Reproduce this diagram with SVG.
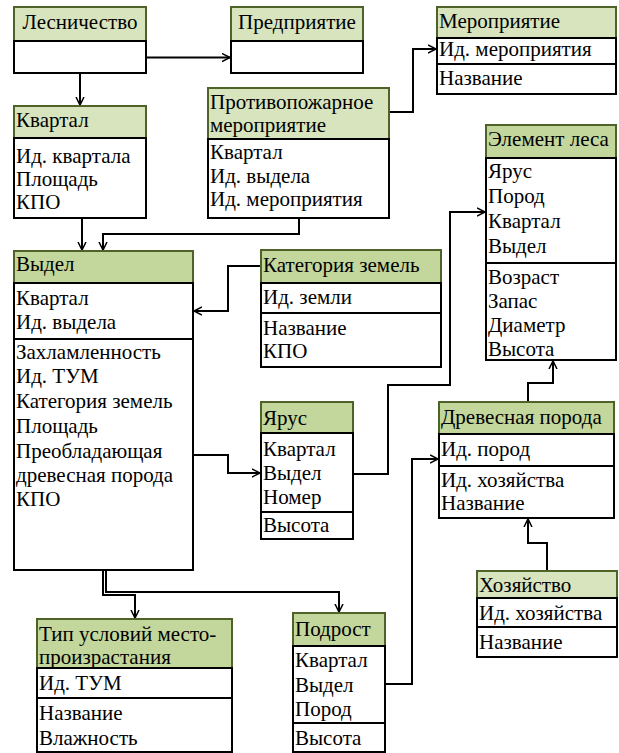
<svg xmlns="http://www.w3.org/2000/svg" width="619" height="753" viewBox="0 0 619 753">
<style>
.ha{fill:#d7e4bd;stroke:#4f6228;stroke-width:2}
.hb{fill:#c3d69b;stroke:#4f6228;stroke-width:2}
.bd{fill:#fff;stroke:#000;stroke-width:2}
text{font-family:'Liberation Serif','DejaVu Serif',serif;font-size:21px;fill:#000}
.c{text-anchor:middle}
.cn{fill:none;stroke:#000;stroke-width:2}
</style>
<defs>
<marker id="ar" markerUnits="userSpaceOnUse" markerWidth="10" markerHeight="10" refX="8" refY="4" orient="auto" viewBox="0 0 10 8">
<path d="M0,0 L8,4 L0,8" fill="none" stroke="#000" stroke-width="1.5"/>
</marker>
</defs>
<rect width="619" height="753" fill="#fff"/>
<g id="connectors">
<path class="cn" d="M146,57.5 H230" marker-end="url(#ar)"/>
<path class="cn" d="M80,73 V105" marker-end="url(#ar)"/>
<path class="cn" d="M389,112 H413 V49 H436" marker-end="url(#ar)"/>
<path class="cn" d="M82,218 V250" marker-end="url(#ar)"/>
<path class="cn" d="M299,218 V234 H103 V250" marker-end="url(#ar)"/>
<path class="cn" d="M261,266 H228 V311 H194" marker-end="url(#ar)"/>
<path class="cn" d="M193,455 H228 V473 H260" marker-end="url(#ar)"/>
<path class="cn" d="M353,474 H388 V385 H450 V212 H485" marker-end="url(#ar)"/>
<path class="cn" d="M385,684 H412 V459 H438" marker-end="url(#ar)"/>
<path class="cn" d="M528,402 V383 H553 V361" marker-end="url(#ar)"/>
<path class="cn" d="M547,571 V543 H528 V519" marker-end="url(#ar)"/>
<path class="cn" d="M103,570 V595 H135 V618" marker-end="url(#ar)"/>
<path class="cn" d="M106,570 V592 H339 V612" marker-end="url(#ar)"/>
</g>
<g id="leshnichestvo">
<rect class="ha" x="14" y="7" width="132" height="34"/>
<rect class="bd" x="14" y="41" width="132" height="32"/>
<text class="c" x="80" y="29">Лесничество</text>
</g>
<g id="predpriyatie">
<rect class="ha" x="231" y="7" width="132" height="34"/>
<rect class="bd" x="231" y="41" width="132" height="32"/>
<text class="c" x="297" y="29">Предприятие</text>
</g>
<g id="meropriyatie">
<rect class="ha" x="437" y="7" width="179" height="31"/>
<rect class="bd" x="437" y="38" width="179" height="26"/>
<rect class="bd" x="437" y="64" width="179" height="30"/>
<text x="439" y="28">Мероприятие</text>
<text x="439" y="56">Ид. мероприятия</text>
<text x="439" y="85">Название</text>
</g>
<g id="kvartal">
<rect class="ha" x="14" y="106" width="132" height="32"/>
<rect class="bd" x="14" y="138" width="132" height="80"/>
<text x="16" y="127">Квартал</text>
<text x="16" y="163">Ид. квартала</text>
<text x="16" y="186">Площадь</text>
<text x="16" y="209">КПО</text>
</g>
<g id="protivopozharnoe">
<rect class="ha" x="208" y="88" width="181" height="51"/>
<rect class="bd" x="208" y="139" width="181" height="79"/>
<text x="210" y="109">Противопожарное</text>
<text x="210" y="132">мероприятие</text>
<text x="210" y="159">Квартал</text>
<text x="210" y="183">Ид. выдела</text>
<text x="210" y="206">Ид. мероприятия</text>
</g>
<g id="element-lesa">
<rect class="hb" x="486" y="125" width="130" height="33"/>
<rect class="bd" x="486" y="158" width="130" height="105"/>
<rect class="bd" x="486" y="263" width="130" height="97"/>
<text x="488" y="146">Элемент леса</text>
<text x="488" y="178">Ярус</text>
<text x="488" y="203">Пород</text>
<text x="488" y="228">Квартал</text>
<text x="488" y="253">Выдел</text>
<text x="488" y="284">Возраст</text>
<text x="488" y="308">Запас</text>
<text x="488" y="332">Диаметр</text>
<text x="488" y="356">Высота</text>
</g>
<g id="vydel">
<rect class="hb" x="14" y="251" width="179" height="32"/>
<rect class="bd" x="14" y="283" width="179" height="56"/>
<rect class="bd" x="14" y="339" width="179" height="231"/>
<text x="16" y="271">Выдел</text>
<text x="16" y="305">Квартал</text>
<text x="16" y="329">Ид. выдела</text>
<text x="16" y="359">Захламленность</text>
<text x="16" y="383">Ид. ТУМ</text>
<text x="16" y="408">Категория земель</text>
<text x="16" y="433">Площадь</text>
<text x="16" y="458">Преобладающая</text>
<text x="16" y="482">древесная порода</text>
<text x="16" y="506">КПО</text>
</g>
<g id="kategoriya">
<rect class="hb" x="261" y="250" width="180" height="33"/>
<rect class="bd" x="261" y="283" width="180" height="30"/>
<rect class="bd" x="261" y="313" width="180" height="54"/>
<text x="263" y="272">Категория земель</text>
<text x="263" y="304">Ид. земли</text>
<text x="263" y="335">Название</text>
<text x="263" y="358">КПО</text>
</g>
<g id="yarus">
<rect class="hb" x="261" y="402" width="92" height="31"/>
<rect class="bd" x="261" y="433" width="92" height="79"/>
<rect class="bd" x="261" y="512" width="92" height="27"/>
<text x="263" y="425">Ярус</text>
<text x="263" y="456">Квартал</text>
<text x="263" y="480">Выдел</text>
<text x="263" y="504">Номер</text>
<text x="263" y="532">Высота</text>
</g>
<g id="drevesnaya-poroda">
<rect class="hb" x="439" y="402" width="175" height="32"/>
<rect class="bd" x="439" y="434" width="175" height="32"/>
<rect class="bd" x="439" y="466" width="175" height="52"/>
<text x="441" y="424">Древесная порода</text>
<text x="441" y="456">Ид. пород</text>
<text x="441" y="487">Ид. хозяйства</text>
<text x="441" y="510">Название</text>
</g>
<g id="hozyaystvo">
<rect class="ha" x="477" y="571" width="140" height="27"/>
<rect class="bd" x="477" y="598" width="140" height="29"/>
<rect class="bd" x="477" y="627" width="140" height="30"/>
<text x="479" y="592">Хозяйство</text>
<text x="479" y="620">Ид. хозяйства</text>
<text x="479" y="649">Название</text>
</g>
<g id="tip-usloviy">
<rect class="hb" x="37" y="619" width="195" height="49"/>
<rect class="bd" x="37" y="668" width="195" height="30"/>
<rect class="bd" x="37" y="698" width="195" height="54"/>
<text x="39" y="641">Тип условий место-</text>
<text x="39" y="664">произрастания</text>
<text x="39" y="690">Ид. ТУМ</text>
<text x="39" y="720">Название</text>
<text x="39" y="745">Влажность</text>
</g>
<g id="podrost">
<rect class="hb" x="293" y="613" width="92" height="33"/>
<rect class="bd" x="293" y="646" width="92" height="77"/>
<rect class="bd" x="293" y="723" width="92" height="29"/>
<text x="295" y="636">Подрост</text>
<text x="295" y="667">Квартал</text>
<text x="295" y="692">Выдел</text>
<text x="295" y="716">Пород</text>
<text x="295" y="745">Высота</text>
</g>
</svg>
